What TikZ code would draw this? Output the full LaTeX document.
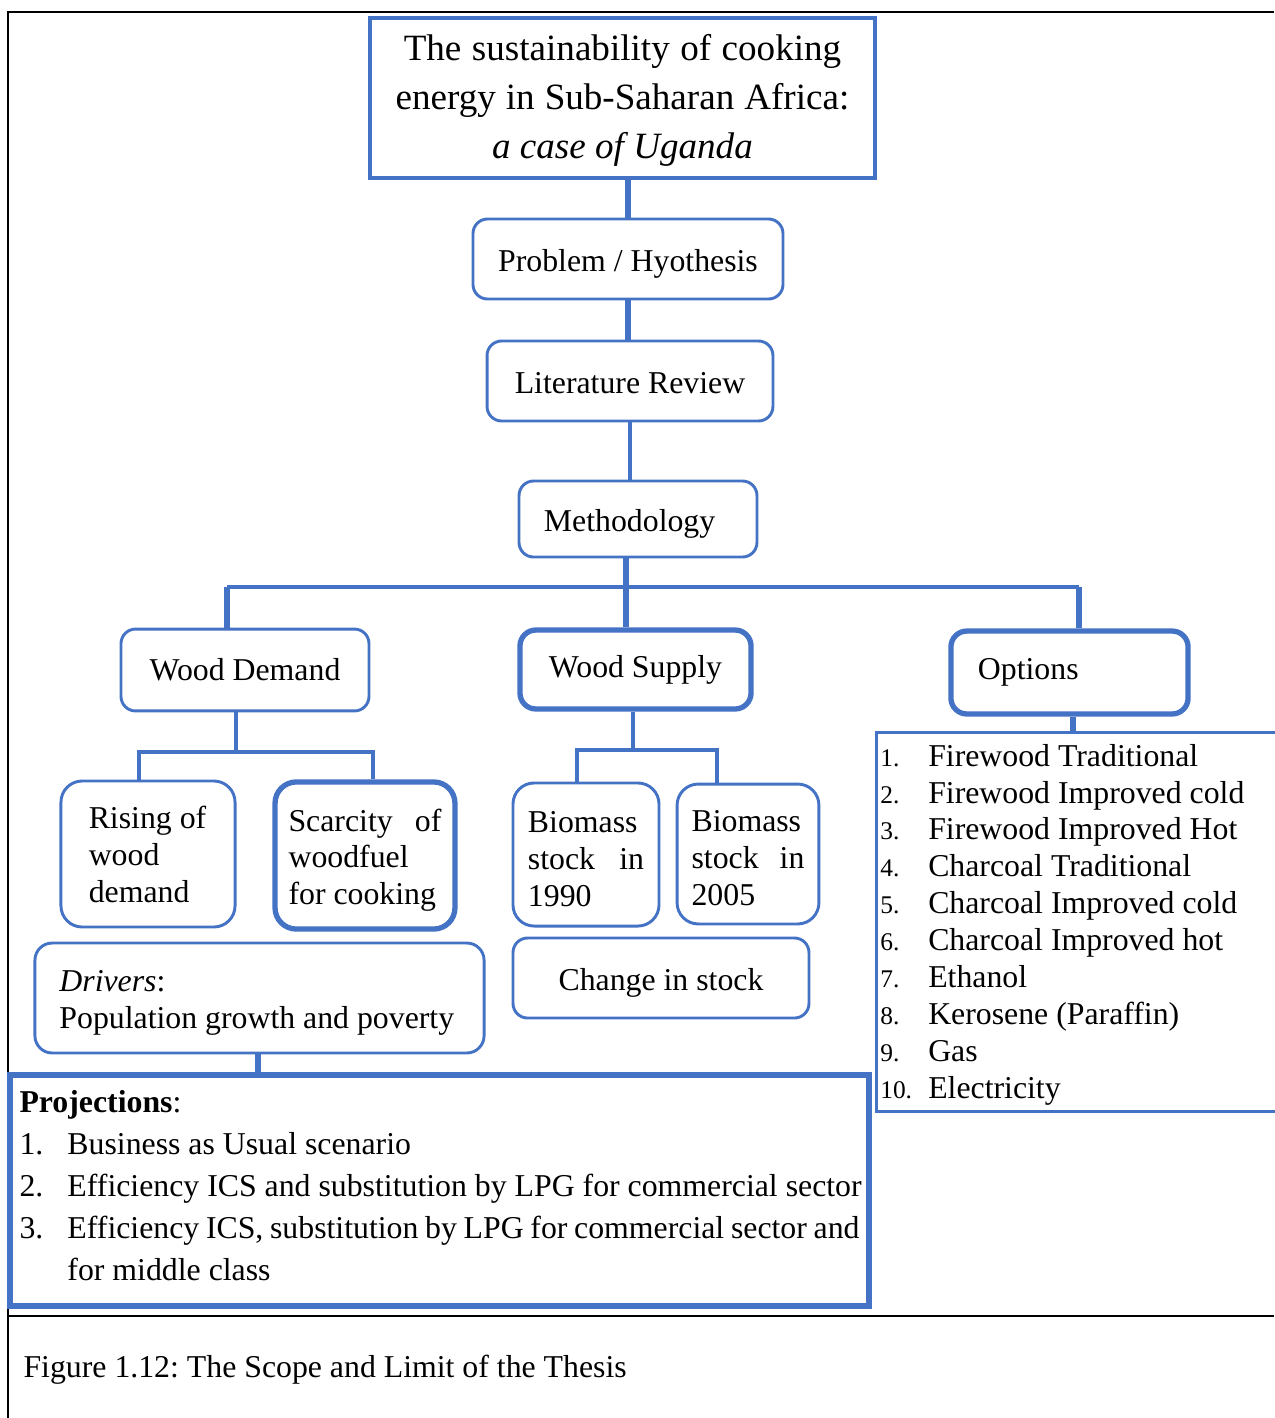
\documentclass[tikz,border=0pt]{standalone}
\usepackage{fontspec}
\setmainfont{Liberation Serif}
\definecolor{boxblue}{HTML}{4472C4}
\definecolor{framegray}{HTML}{000000}
\newcommand\optno[1]{\makebox[18.1pt][l]{\fontsize{9.6}{13.93}\selectfont #1}}
\newcommand\projno[1]{\makebox[18.1pt][l]{#1}}
\frenchspacing
\begin{document}
\begin{tikzpicture}[x=0.3774pt, y=-0.3774pt,
    every node/.style={font=\fontsize{12}{13.95}\selectfont, inner sep=0pt,
        execute at begin node={\spaceskip=0pt\xspaceskip=0pt}},
    thinbox/.style={draw=boxblue, line width=1.1pt, rounded corners=5.5pt, align=center},
    thickbox/.style={draw=boxblue, line width=2pt, rounded corners=6pt, align=center},
    link/.style={boxblue, line width=1.5pt},
    thicklink/.style={boxblue, line width=2.2pt}]
    \useasboundingbox (0,0) rectangle (1274,1418);

    % Page frame and caption rule
    \draw[framegray, line width=0.8pt] (8,1418) -- (8,12) -- (1274,12);
    \draw[framegray, line width=0.8pt] (8,1316) -- (1274,1316);

    % Title
    \node[draw=boxblue, line width=1.7pt, minimum width=190.6pt, minimum height=60.4pt,
        align=center, text width=180pt, text height=11.9pt, font=\fontsize{14}{18.5}\selectfont] (title) at (622.5,98)
        {The sustainability of cooking\\energy in Sub-Saharan Africa:\\\mbox{\textit{a case of Uganda}}};

    % Main steps
    \node[thinbox, minimum width=117pt, minimum height=30.2pt, text height=12pt] (problem) at (628,259) {Problem / Hyothesis};
    \node[thinbox, minimum width=107.9pt, minimum height=30.2pt, text height=9.7pt] (review) at (630,381) {Literature Review};
    \node[thinbox, align=left, text width=71pt, inner xsep=9.4pt, minimum height=28.7pt, text height=12pt] (method) at (638,519) {Methodology};

    % Three branches
    \node[thinbox, minimum width=93.6pt, minimum height=30.9pt] (demand) at (245,670) {Wood Demand};
    \node[thickbox, minimum width=87.2pt, minimum height=29.8pt] (supply) at (635.5,669.5) {Wood Supply};
    \node[thickbox, align=left, text width=69.1pt, inner xsep=10.2pt, minimum height=31.3pt] (options) at (1069.5,672.5) {Options};

    % Demand side
    \node[thinbox, rounded corners=8pt, align=left, text width=44.7pt, minimum width=65.7pt, minimum height=55.1pt] (rising) at (148,854)
        {\mbox{Rising of}\\wood\\demand};
    \node[thickbox, rounded corners=8pt, align=left, text width=57.7pt, inner xsep=5.1pt, minimum height=55.5pt, text height=12pt] (scarcity) at (365,855.5)
        {Scarcity\hfill of\\woodfuel\\\mbox{for cooking}};
    \node[thinbox, rounded corners=6.5pt, align=left, text width=151pt, minimum width=169.5pt, minimum height=41.5pt, text height=11.7pt] (drivers) at (259.5,998)
        {\textit{Drivers}:\\\mbox{Population growth and poverty}};

    % Supply side
    \node[thinbox, rounded corners=8pt, align=left, text width=43.8pt, inner xsep=5.66pt, minimum height=54pt, text height=11.2pt] (stock90) at (586,854.5)
        {Biomass\\stock\hfill in\\1990};
    \node[thinbox, rounded corners=8pt, align=left, text width=42.6pt, inner xsep=5.47pt, minimum height=52.8pt, text height=11.2pt] (stock05) at (748,854)
        {Biomass\\stock\hfill in\\2005};
    \node[thinbox, minimum width=111.7pt, minimum height=30.2pt, text height=12pt] (change) at (661,978) {Change in stock};

    % Options list
    \node[draw=boxblue, line width=1pt, anchor=north west, align=left, text width=151pt, inner xsep=1.5pt,
        minimum height=143pt, text height=10.5pt, font=\fontsize{12}{13.93}\selectfont] (optlist) at (875,731)
        {\optno{1.}Firewood Traditional\\
         \optno{2.}Firewood Improved cold\\
         \optno{3.}Firewood Improved Hot\\
         \optno{4.}Charcoal Traditional\\
         \optno{5.}Charcoal Improved cold\\
         \optno{6.}Charcoal Improved hot\\
         \optno{7.}Ethanol\\
         \optno{8.}Kerosene (Paraffin)\\
         \optno{9.}Gas\\
         \optno{10.}Electricity};

    % Projections
    \node[draw=boxblue, line width=2pt, align=left, text width=317pt, minimum width=324.2pt, minimum height=87.2pt,
        text height=4.4pt, font=\fontsize{12}{15.85}\selectfont] (proj) at (439.5,1190.5)
        {\textbf{Projections}:\\
         \mbox{\projno{1.}Business as Usual scenario}\\
         \mbox{\projno{2.}Efficiency ICS and substitution by LPG for commercial sector}\\
         \mbox{\projno{3.}\makebox[298.9pt][s]{Efficiency ICS, substitution by LPG for commercial sector and}}\\
         \hspace*{18.1pt}\mbox{for middle class}};

    % Caption
    \node[anchor=west] (caption) at (23,1370) {Figure 1.12: The Scope and Limit of the Thesis};

    % Connectors down the middle
    \draw[thicklink] (problem.north) -- (problem.north |- title.south);
    \draw[thicklink] (problem.south) -- (problem.south |- review.north);
    \draw[link] (review.south) -- (review.south |- method.north);

    % Split below methodology
    \coordinate (split) at (626,587);
    \coordinate (splitL) at (227,587);
    \coordinate (splitR) at (1079,587);
    \draw[thicklink] (split |- method.south) -- (split |- supply.north);
    \draw[link] (splitL) -- (splitR);
    \draw[thicklink] (splitL) -- (splitL |- demand.north);
    \draw[thicklink] (splitR) -- (splitR |- options.north);

    % Demand branch
    \coordinate (dsplit) at (236,752);
    \coordinate (dL) at (139,752);
    \coordinate (dR) at (373,752);
    \draw[link] (dsplit |- demand.south) -- (dsplit);
    \draw[link] (dL |- rising.north) -- (dL) -- (dR) -- (dR |- scarcity.north);
    \coordinate (drvdrop) at (258,1064);
    \draw[thicklink] (drvdrop |- drivers.south) -- (drvdrop |- proj.north);

    % Supply branch
    \coordinate (ssplit) at (633,750);
    \coordinate (sL) at (577,750);
    \coordinate (sR) at (717,750);
    \draw[link] (ssplit |- supply.south) -- (ssplit);
    \draw[link] (sL |- stock90.north) -- (sL) -- (sR) -- (sR |- stock05.north);

    % Options branch
    \coordinate (optdrop) at (1073,722);
    \draw[thicklink] (optdrop |- options.south) -- (optdrop |- optlist.north);
\end{tikzpicture}
\end{document}
